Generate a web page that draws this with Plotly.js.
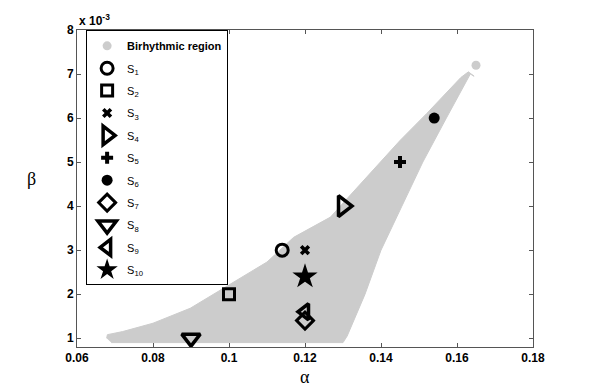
<!DOCTYPE html>
<html>
<head>
<meta charset="utf-8">
<script src="https://cdn.plot.ly/plotly-3.0.1.min.js"></script>
<style>html,body{margin:0;padding:0;background:#fff}#chart{width:589px;height:392px}</style>
</head>
<body>
<div id="chart"></div>
<script>
// Birhythmic region outline (alpha, beta)
const regionAlpha = [0.0678, 0.0680, 0.0720, 0.0800, 0.0898, 0.0998, 0.1100, 0.1170, 0.1267, 0.1314, 0.1450, 0.1520, 0.1610, 0.1630, 0.1645, 0.1635, 0.1572, 0.1510, 0.1455, 0.1400, 0.1358, 0.1311, 0.1300, 0.0690];
const regionBeta  = [0.00100, 0.00108, 0.00115, 0.00134, 0.00168, 0.00220, 0.00273, 0.00329, 0.00375, 0.00420, 0.00549, 0.00610, 0.00692, 0.00705, 0.00695, 0.00700, 0.00600, 0.00500, 0.00400, 0.00300, 0.00200, 0.00105, 0.00090, 0.00090];
// isolated region point
const isoAlpha = [0.165];
const isoBeta = [0.0072];

// Sample points S1..S10
const sLabels = ['S<sub>1</sub>','S<sub>2</sub>','S<sub>3</sub>','S<sub>4</sub>','S<sub>5</sub>','S<sub>6</sub>','S<sub>7</sub>','S<sub>8</sub>','S<sub>9</sub>','S<sub>10</sub>'];
const sAlpha = [0.114, 0.100, 0.120, 0.130, 0.145, 0.154, 0.120, 0.090, 0.120, 0.120];
const sBeta  = [0.0030, 0.0020, 0.0030, 0.0040, 0.0050, 0.0060, 0.0014, 0.0010, 0.0016, 0.0024];

// Tick labels
const xTickVals = [0.06, 0.08, 0.10, 0.12, 0.14, 0.16, 0.18];
const xTickText = ['0.06','0.08','0.1','0.12','0.14','0.16','0.18'];
const yTickVals = [0.001,0.002,0.003,0.004,0.005,0.006,0.007,0.008];
const yTickText = ['1','2','3','4','5','6','7','8'];

// styles
const sSymbols = ['circle-open','square-open','x','triangle-right-open','cross','circle','diamond-open','triangle-down-open','triangle-left-open','star'];
const sSizes   = [12, 11, 9, 18, 10, 11, 13, 16, 14, 19];
const sLineW   = [3, 3, 0, 3.5, 0, 0, 3, 3.5, 3.5, 0];

const gray = '#cccccc';
const traces = [];
traces.push({
  x: regionAlpha, y: regionBeta, type: 'scatter', mode: 'lines',
  fill: 'toself', fillcolor: gray, line: {color: gray, width: 1},
  showlegend: false, hoverinfo: 'skip'
});
traces.push({
  x: isoAlpha, y: isoBeta, type: 'scatter', mode: 'markers',
  name: '<b>Birhythmic region</b>', legendgroup: 'g0',
  marker: {color: gray, size: 9, symbol: 'circle'}
});
for (let i = 0; i < sLabels.length; i++) {
  traces.push({
    x: [sAlpha[i]], y: [sBeta[i]], type: 'scatter', mode: 'markers',
    name: sLabels[i], legendgroup: 'g' + (i + 1),
    marker: {symbol: sSymbols[i], size: sSizes[i], color: '#000',
             line: {color: '#000', width: sLineW[i]}}
  });
}

const axisFont = {family: 'Liberation Sans, Arial, sans-serif', size: 12, color: '#000', weight: 'bold'};
const layout = {
  width: 589, height: 392,
  margin: {l: 77, r: 56, t: 29.5, b: 45},
  paper_bgcolor: '#fff', plot_bgcolor: '#fff',
  showlegend: true,
  legend: {
    x: 0.02, y: 0.999, xanchor: 'left', yanchor: 'top',
    bgcolor: '#fff', bordercolor: '#000', borderwidth: 1,
    font: {family: 'Liberation Sans, Arial, sans-serif', size: 11, color: '#000'},
    itemsizing: 'trace', traceorder: 'grouped', tracegroupgap: 3.4
  },
  xaxis: {
    range: [0.06, 0.18], tickvals: xTickVals, ticktext: xTickText,
    ticks: 'inside', ticklen: 4, tickcolor: '#555', tickfont: axisFont,
    showline: true, linecolor: '#555', linewidth: 1, mirror: 'ticks',
    showgrid: false, zeroline: false
  },
  yaxis: {
    range: [0.0008, 0.008], tickvals: yTickVals, ticktext: yTickText,
    ticks: 'inside', ticklen: 4, tickcolor: '#555', tickfont: axisFont,
    showline: true, linecolor: '#555', linewidth: 1, mirror: 'ticks',
    showgrid: false, zeroline: false
  },
  annotations: [
    {text: 'α', xref: 'paper', yref: 'paper', x: 0.5, y: -0.095, xanchor: 'center', yanchor: 'middle',
     showarrow: false, font: {family: 'Liberation Serif, Times New Roman, serif', size: 18, color: '#000'}},
    {text: 'β', xref: 'paper', yref: 'paper', x: -0.1, y: 0.53, xanchor: 'center', yanchor: 'middle',
     showarrow: false, font: {family: 'Liberation Serif, Times New Roman, serif', size: 18, color: '#000'}},
    {text: 'x 10<sup>-3</sup>', xref: 'paper', yref: 'paper', x: 0, y: 1.0, xanchor: 'left', yanchor: 'bottom',
     showarrow: false, font: {family: 'Liberation Sans, Arial, sans-serif', size: 12, color: '#000', weight: 'bold'}}
  ]
};
Plotly.newPlot('chart', traces, layout, {displayModeBar: false, staticPlot: true});
</script>
</body>
</html>
